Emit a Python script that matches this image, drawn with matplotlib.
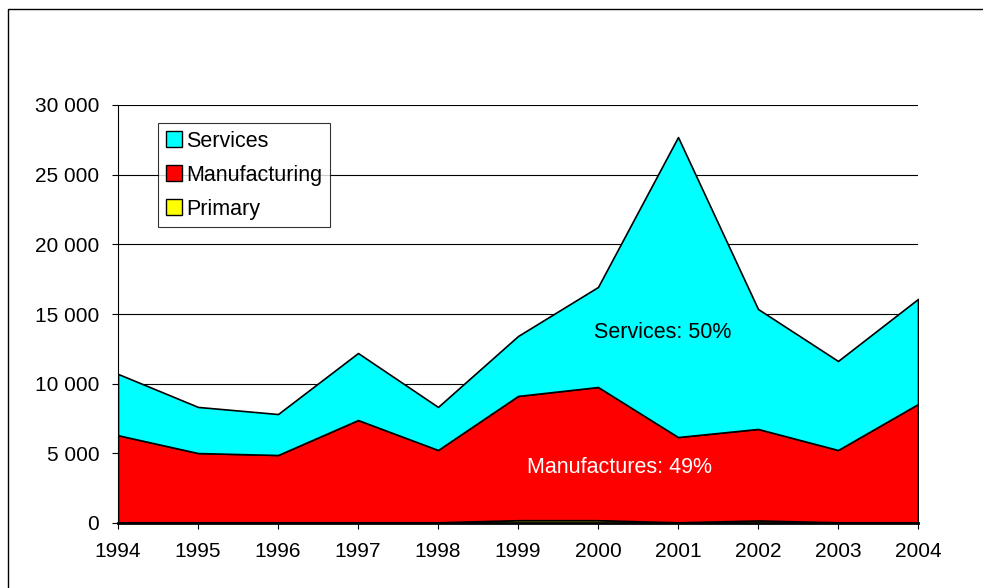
import matplotlib

matplotlib.use("Agg")
import matplotlib.pyplot as plt
from matplotlib.patches import Rectangle

years = [1994, 1995, 1996, 1997, 1998, 1999, 2000, 2001, 2002, 2003, 2004]
primary = [50, 50, 50, 50, 50, 200, 200, 50, 180, 50, 50]
manufacturing = [6250, 4970, 4830, 7340, 5190, 8920, 9560, 6120, 6570, 5190, 8490]
totals = [10700, 8330, 7820, 12200, 8330, 13420, 16940, 27700, 15360, 11630, 16080]
services = [t - m - p for t, m, p in zip(totals, manufacturing, primary)]
yticks = [0, 5000, 10000, 15000, 20000, 25000, 30000]

plt.rcParams["font.family"] = ["Liberation Sans", "DejaVu Sans"]
fs = 15.5

fig = plt.figure(figsize=(9.83, 5.88), dpi=100)
ax = fig.add_axes([118 / 983, 65 / 588, 800 / 983, 418 / 588])

ax.stackplot(years, primary, manufacturing, services,
             colors=["#ffff00", "#ff0000", "#00ffff"],
             labels=["Primary", "Manufacturing", "Services"],
             edgecolor="black", linewidth=1.2, zorder=3)

ax.set_xlim(1994, 2004)
ax.set_ylim(0, 30000)
ax.set_xticks(years)
ax.set_yticks(yticks)
ax.set_yticklabels([f"{v:,}".replace(",", " ") for v in yticks])
ax.tick_params(labelsize=15, length=4.5, width=0.8, direction="out")
ax.tick_params(axis="y", pad=9)
ax.tick_params(axis="x", pad=9)
ax.grid(axis="y", color="black", linewidth=0.8, zorder=0)
ax.set_axisbelow(True)
for s in ["top", "right"]:
    ax.spines[s].set_visible(False)
ax.spines["bottom"].set_linewidth(2.0)
ax.spines["bottom"].set_zorder(5)

ax.text(2000.81, 13650, "Services: 50%", color="black", fontsize=fs,
        ha="center", va="center", zorder=6)
ax.text(2000.27, 3950, "Manufactures: 49%", color="white", fontsize=fs,
        ha="center", va="center", zorder=6)

handles, labels = ax.get_legend_handles_labels()
leg = ax.legend(handles[::-1], labels[::-1], loc="upper left",
                bbox_to_anchor=(40 / 800, 1 - 18 / 418), fontsize=fs,
                frameon=True, fancybox=False, edgecolor="black",
                handlelength=0.75, handleheight=0.75, handletextpad=0.2,
                labelspacing=0.6, borderpad=0.36, borderaxespad=0)
leg.get_frame().set_linewidth(0.8)
for h in leg.legend_handles:
    h.set_edgecolor("black")
    h.set_linewidth(1.0)

fig.add_artist(Rectangle((8 / 983, -0.1), 1.2, 1 - 9 / 588 + 0.1,
                         transform=fig.transFigure, fill=False,
                         edgecolor="black", linewidth=1.0))

fig.savefig("out.png", dpi=100)
